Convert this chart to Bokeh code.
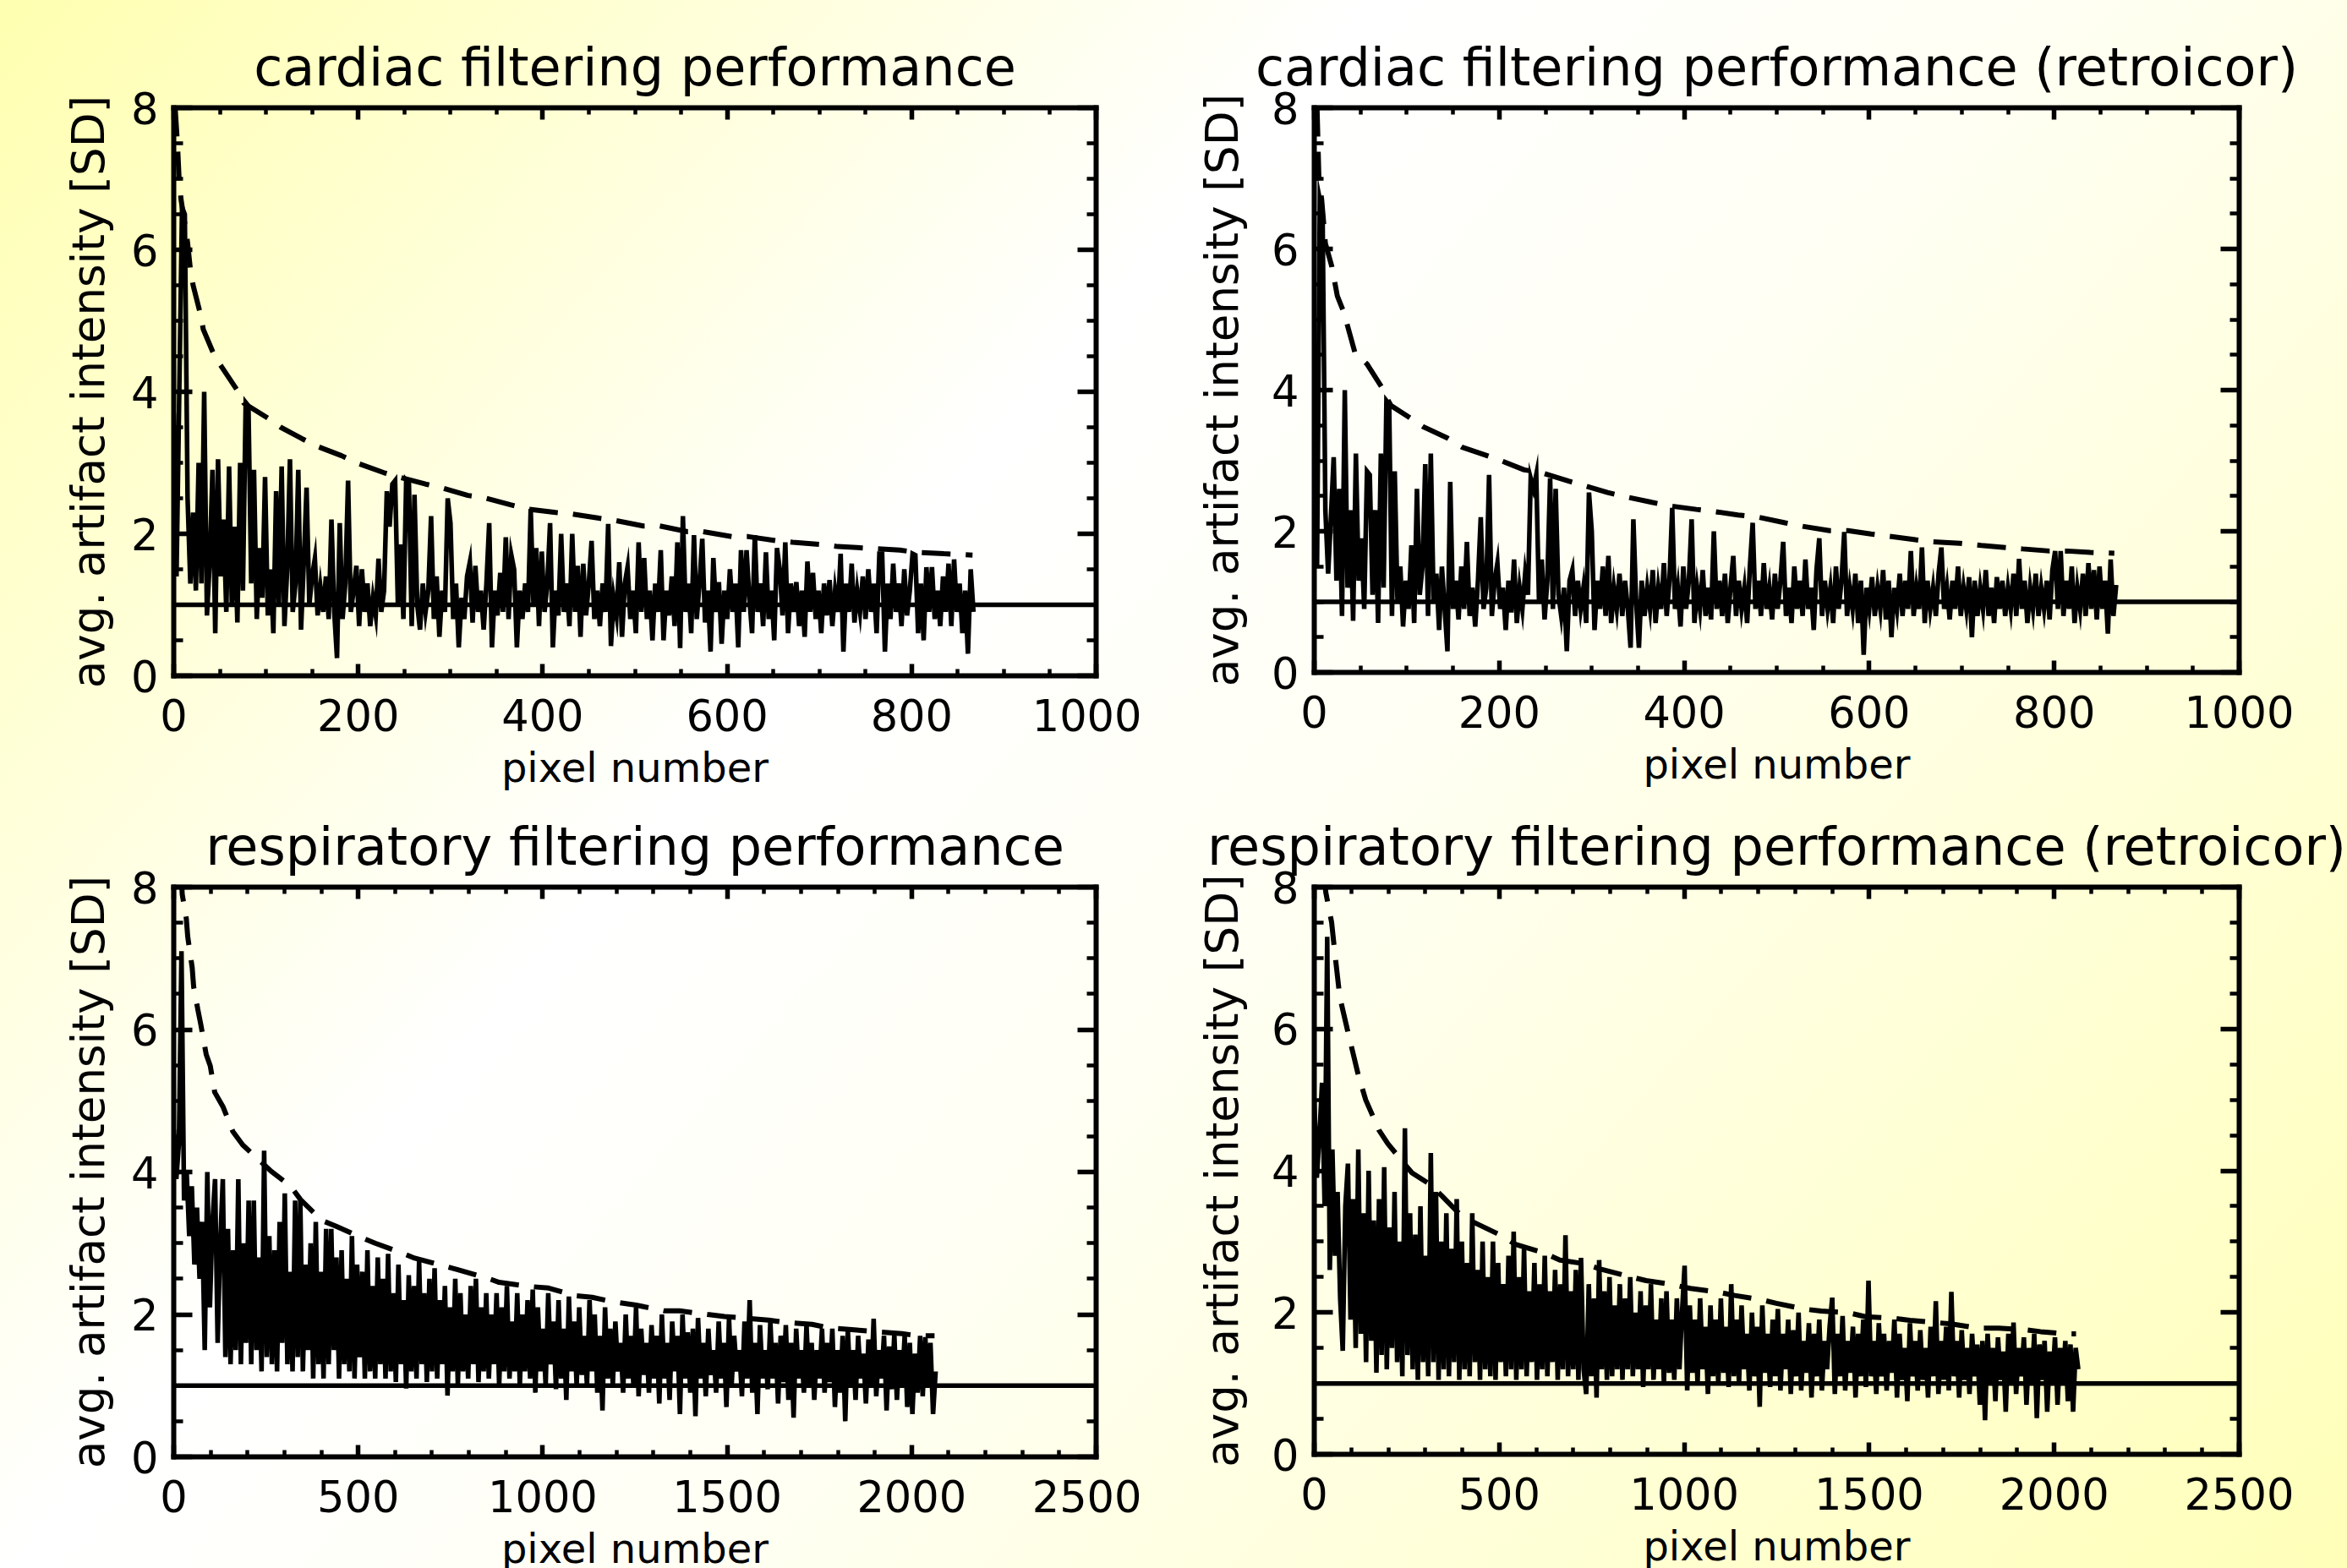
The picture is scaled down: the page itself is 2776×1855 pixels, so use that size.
from bokeh.plotting import figure
from bokeh.layouts import column, row
from bokeh.models import (LinearAxis, SingleIntervalTicker, Range1d,
                          CustomJSTickFormatter, Span)
from bokeh.embed import file_html
from bokeh.resources import INLINE

FONT = "DejaVu Sans"

TITLES = ["cardiac filtering performance",
          "cardiac filtering performance (retroicor)",
          "respiratory filtering performance",
          "respiratory filtering performance (retroicor)"]
X_LABEL = "pixel number"
Y_LABEL = "avg. artifact intensity [SD]"
X_MAX_CARD = 1000
X_MAX_RESP = 2500
Y_MAX = 8
REF_LEVEL = 1.0
CARD_STEP = 3   # pixel spacing of the read cardiac samples
RESP_STEP = 7   # pixel spacing of the read respiratory samples

# ---- cardiac (top left) ----
TL_Y = [3.7, 1.4, 4.0, 6.6, 6.5, 2.5, 1.3, 2.3, 1.2, 3.0,
        1.3, 4.0, 0.85, 1.6, 2.9, 0.6, 3.05, 1.4, 2.2, 0.9,
        2.95, 1.0, 2.1, 0.75, 3.0, 1.2, 3.85, 3.8, 1.3, 2.9,
        0.8, 1.8, 1.1, 2.8, 0.85, 1.5, 0.6, 2.6, 1.0, 2.95,
        0.7, 1.5, 3.05, 0.9, 1.3, 2.9, 0.65, 1.6, 2.65, 1.0,
        1.4, 1.65, 0.85, 1.25, 0.9, 1.4, 0.8, 2.2, 0.9, 0.25,
        2.15, 0.8, 1.3, 2.75, 0.9, 1.2, 1.55, 0.7, 1.5, 0.9,
        1.3, 0.7, 1.1, 0.85, 1.65, 0.9, 1.2, 2.6, 2.1, 2.7,
        2.75, 1.0, 1.85, 0.8, 2.75, 2.7, 0.7, 2.55, 1.0, 0.65,
        1.3, 0.9, 1.2, 2.25, 0.8, 1.4, 0.55, 1.2, 0.9, 2.5,
        2.15, 0.8, 1.3, 0.4, 1.1, 0.8, 1.4, 1.6, 0.75, 1.55,
        0.9, 1.2, 0.65, 1.3, 2.15, 0.4, 1.2, 0.85, 1.45, 0.9,
        1.95, 0.8, 1.7, 1.5, 0.4, 1.2, 0.8, 1.3, 0.9, 2.35,
        1.0, 1.8, 0.7, 1.75, 0.9, 1.3, 2.15, 0.4, 1.2, 0.85,
        2.0, 0.9, 1.3, 0.7, 2.0, 0.9, 1.55, 0.55, 1.58, 0.85,
        1.3, 1.9, 0.8, 1.2, 0.7, 1.3, 0.9, 2.14, 0.42, 1.1,
        0.85, 1.6, 0.55, 1.3, 1.53, 0.8, 1.2, 0.6, 1.88, 0.9,
        1.66, 0.8, 1.2, 0.5, 1.3, 0.9, 1.77, 0.5, 1.2, 0.85,
        1.4, 0.7, 1.88, 0.39, 2.25, 0.9, 1.3, 0.6, 1.98, 0.8,
        1.3, 1.93, 0.75, 1.2, 0.34, 1.66, 0.9, 1.32, 0.45, 1.2,
        0.8, 1.5, 0.9, 1.3, 0.4, 1.77, 0.9, 1.77, 1.1, 0.6,
        1.98, 0.9, 1.3, 0.7, 1.74, 0.8, 1.2, 0.5, 1.8, 1.5,
        0.85, 1.88, 0.6, 1.3, 0.9, 1.32, 0.7, 1.2, 0.55, 1.61,
        0.9, 1.45, 0.8, 1.2, 0.6, 1.3, 0.85, 1.35, 0.7, 1.2,
        0.9, 1.72, 0.34, 1.3, 0.9, 1.58, 0.75, 1.2, 0.9, 1.4,
        0.8, 1.5, 0.9, 1.3, 0.6, 1.72, 1.72, 0.34, 1.3, 0.8,
        1.58, 0.9, 1.3, 0.7, 1.5, 0.85, 1.2, 1.72, 1.7, 0.6,
        1.3, 0.5, 1.53, 0.9, 1.53, 0.8, 1.2, 0.7, 1.4, 0.9,
        1.58, 0.7, 1.64, 0.9, 1.3, 0.6, 1.2, 0.31, 1.5, 0.9]
TL_DX = [1.5, 4, 6, 8, 12, 15, 18, 21, 29, 32, 44, 52, 70, 76, 102, 116, 139,
         156, 182, 200, 228, 244, 273, 290, 319, 336, 365, 383, 414, 431, 461,
         478, 509, 527, 557, 574, 605, 623, 654, 671, 701, 720, 750, 787, 805,
         835, 866]
TL_DY = [8.0, 7.5, 6.95, 6.7, 6.37, 6.1, 5.73, 5.5, 5.09, 4.88, 4.51, 4.35,
         4.0, 3.84, 3.63, 3.5, 3.34, 3.23, 3.1, 2.99, 2.86, 2.8, 2.7, 2.65,
         2.54, 2.51, 2.41, 2.35, 2.3, 2.28, 2.22, 2.19, 2.11, 2.11, 2.03, 2.03,
         1.96, 1.96, 1.9, 1.88, 1.85, 1.82, 1.8, 1.77, 1.74, 1.72, 1.7]

# ---- cardiac retroicor (top right) ----
TR_Y = [4.0, 1.5, 6.7, 6.5, 2.3, 1.4, 2.2, 3.05, 1.3, 2.6,
        0.8, 4.0, 1.2, 2.3, 0.73, 3.1, 1.3, 1.9, 0.9, 2.85,
        2.8, 1.1, 2.3, 0.7, 3.1, 1.2, 3.85, 3.8, 0.8, 2.85,
        1.0, 1.5, 0.65, 1.3, 0.9, 1.8, 0.7, 2.6, 1.1, 1.5,
        2.95, 0.8, 3.1, 1.0, 1.4, 0.6, 1.5, 0.9, 0.3, 2.7,
        0.9, 1.3, 0.75, 1.5, 0.9, 1.85, 0.8, 1.2, 0.65, 1.3,
        2.2, 0.9, 1.2, 2.8, 0.8, 1.3, 1.55, 0.9, 1.2, 0.6,
        1.3, 0.85, 1.6, 0.7, 1.2, 0.9, 1.4, 1.1, 2.75, 2.6,
        2.8, 1.0, 1.6, 0.75, 1.3, 2.75, 0.9, 2.6, 1.1, 0.8,
        1.2, 0.3, 1.3, 1.45, 0.8, 1.3, 0.9, 1.2, 0.7, 2.55,
        2.0, 0.6, 1.3, 0.9, 1.5, 0.8, 1.65, 0.7, 1.2, 0.9,
        1.4, 0.8, 1.3, 0.9, 0.35, 2.17, 1.0, 0.35, 1.3, 0.8,
        1.2, 0.9, 1.45, 0.7, 1.2, 0.9, 1.55, 0.8, 1.3, 2.33,
        0.9, 1.2, 0.65, 1.5, 0.9, 1.3, 2.17, 0.7, 1.2, 0.9,
        1.45, 0.8, 1.2, 0.75, 2.0, 0.9, 1.3, 0.8, 1.4, 0.7,
        1.2, 1.65, 0.8, 1.3, 0.9, 1.2, 0.7, 1.5, 2.12, 0.9,
        1.3, 0.8, 1.55, 0.9, 1.2, 0.75, 1.4, 0.9, 1.3, 1.85,
        0.8, 1.2, 0.7, 1.5, 0.9, 1.3, 0.8, 1.6, 0.9, 1.2,
        0.6, 1.45, 1.9, 0.8, 1.3, 0.9, 1.2, 0.7, 1.5, 0.9,
        1.3, 1.99, 0.8, 1.2, 0.9, 1.4, 0.7, 1.3, 0.25, 1.2,
        0.9, 1.35, 0.8, 1.2, 0.9, 1.45, 0.75, 1.3, 0.5, 1.2,
        0.9, 1.4, 0.8, 1.3, 0.9, 1.72, 0.8, 1.2, 0.9, 1.77,
        0.7, 1.3, 0.9, 1.2, 0.8, 1.4, 1.77, 0.9, 1.2, 0.75,
        1.3, 0.9, 1.5, 0.8, 1.2, 0.9, 1.35, 0.5, 1.3, 0.8,
        1.2, 0.9, 1.45, 0.8, 1.2, 0.7, 1.35, 0.9, 1.3, 0.8,
        1.2, 0.9, 1.4, 0.8, 1.61, 0.9, 1.3, 0.7, 1.2, 0.9,
        1.4, 0.8, 1.2, 0.9, 1.3, 0.75, 1.45, 1.72, 0.9, 1.72,
        0.8, 1.3, 0.9, 1.5, 0.7, 1.2, 0.9, 1.4, 0.8, 1.55,
        0.9, 1.45, 0.75, 1.5, 0.9, 1.3, 0.55, 1.6, 0.8, 1.24]
TR_DX = [3, 5, 8, 12, 19, 25, 32, 44, 57, 73, 80, 83, 102, 118, 144, 160, 185,
         202, 227, 246, 275, 291, 317, 336, 365, 384, 413, 432, 458, 480, 509,
         528, 557, 577, 602, 621, 650, 669, 698, 721, 747, 766, 795, 814, 839,
         865]
TR_DY = [8.0, 7.0, 6.7, 6.08, 5.75, 5.33, 5.1, 4.53, 4.37, 4.04, 3.85, 3.78,
         3.62, 3.48, 3.32, 3.19, 3.08, 3.0, 2.87, 2.83, 2.71, 2.65, 2.55, 2.49,
         2.41, 2.36, 2.31, 2.28, 2.23, 2.2, 2.12, 2.07, 2.01, 2.01, 1.96, 1.93,
         1.88, 1.85, 1.83, 1.8, 1.77, 1.75, 1.72, 1.72, 1.7, 1.69]

# ---- respiratory (bottom left) ----
BL_Y = [4.6, 3.9, 4.4, 7.1, 3.6, 4.0, 3.1, 3.8, 2.7, 3.5,
        2.5, 3.3, 1.5, 4.0, 2.1, 3.3, 3.9, 1.6, 3.0, 3.9,
        1.4, 3.2, 1.3, 2.9, 1.5, 3.9, 1.3, 3.0, 1.6, 3.6,
        1.3, 3.6, 1.5, 2.8, 1.2, 4.3, 1.4, 3.1, 1.3, 2.9,
        1.2, 3.3, 1.6, 3.7, 1.3, 2.6, 1.2, 3.6, 1.4, 3.6,
        1.2, 2.7, 1.5, 3.0, 1.1, 3.3, 1.3, 2.6, 1.1, 3.2,
        1.3, 3.2, 1.5, 2.8, 1.1, 2.9, 1.3, 2.5, 1.2, 3.1,
        1.1, 2.7, 1.4, 2.6, 1.1, 2.9, 1.2, 2.4, 1.1, 2.8,
        1.3, 2.5, 1.1, 2.85, 1.2, 2.3, 1.05, 2.7, 1.3, 2.2,
        0.96, 2.55, 1.2, 2.4, 1.1, 2.75, 1.3, 2.3, 1.05, 2.5,
        1.2, 2.65, 1.1, 2.2, 1.3, 2.4, 0.86, 2.1, 1.2, 2.5,
        1.0, 2.3, 1.2, 2.0, 1.1, 2.4, 1.3, 2.5, 1.05, 2.1,
        1.2, 2.3, 1.1, 2.0, 1.3, 2.3, 1.0, 2.1, 1.2, 2.4,
        1.1, 1.9, 1.2, 2.3, 1.0, 2.0, 1.2, 2.2, 1.1, 2.35,
        0.9, 2.1, 1.2, 1.8, 1.0, 2.3, 1.3, 1.9, 0.95, 2.2,
        1.1, 1.8, 0.8, 2.25, 1.2, 1.9, 1.0, 2.1, 1.15, 1.7,
        1.0, 2.2, 1.2, 2.0, 0.9, 1.7, 0.65, 2.1, 1.1, 1.8,
        1.0, 1.9, 1.2, 1.6, 0.9, 2.0, 1.1, 1.7, 1.0, 2.1,
        0.85, 1.8, 1.15, 1.6, 0.9, 1.85, 1.1, 1.7, 0.75, 2.0,
        1.1, 1.6, 0.8, 1.9, 1.2, 1.7, 0.6, 2.0, 1.1, 1.75,
        0.9, 1.8, 0.57, 1.95, 1.1, 1.6, 0.85, 1.8, 1.15, 1.5,
        0.9, 1.9, 1.1, 1.6, 0.7, 1.95, 1.0, 1.7, 1.2, 1.5,
        0.85, 1.9, 1.1, 2.2, 0.9, 1.6, 0.6, 1.85, 1.1, 1.5,
        0.95, 1.9, 1.1, 1.6, 0.75, 1.7, 1.05, 1.85, 0.8, 1.6,
        0.55, 1.8, 1.1, 1.5, 0.9, 1.85, 1.0, 1.6, 0.8, 1.5,
        1.1, 1.8, 0.9, 1.6, 1.05, 1.8, 0.7, 1.5, 0.9, 1.7,
        0.5, 1.78, 1.0, 1.5, 0.8, 1.7, 1.1, 1.45, 0.75, 1.65,
        1.0, 1.94, 0.85, 1.5, 1.1, 1.7, 0.65, 1.55, 0.95, 1.72,
        0.8, 1.5, 1.0, 1.7, 0.7, 1.6, 0.6, 1.45, 0.9, 1.7,
        0.85, 1.68, 1.0, 1.6, 0.6, 1.2]
BL_DX = [20, 23, 34, 38, 50, 54, 65, 73, 88, 99, 111, 134, 160, 187, 237, 264,
         317, 344, 401, 439, 508, 546, 615, 653, 726, 768, 855, 882, 970, 1016,
         1092, 1134, 1188, 1253, 1329, 1371, 1447, 1493, 1612, 1654, 1730, 1776,
         1852, 1898, 1974, 2016, 2062]
BL_DY = [8.2, 7.9, 7.56, 7.3, 6.87, 6.6, 6.29, 6.08, 5.65, 5.49, 5.12, 4.91,
         4.57, 4.38, 4.14, 4.01, 3.8, 3.61, 3.32, 3.24, 3.08, 3.0, 2.87, 2.79,
         2.69, 2.63, 2.5, 2.45, 2.39, 2.37, 2.26, 2.24, 2.18, 2.13, 2.05, 2.05,
         2.0, 1.97, 1.92, 1.89, 1.86, 1.81, 1.78, 1.76, 1.73, 1.7, 1.7]

# ---- respiratory retroicor (bottom right) ----
BR_Y = [5.0, 3.9, 4.5, 5.24, 3.5, 7.3, 2.6, 4.3, 2.8, 3.7,
        2.2, 1.46, 3.5, 4.1, 1.9, 3.6, 1.5, 4.3, 1.7, 3.4,
        1.3, 4.0, 1.6, 3.3, 1.15, 3.6, 1.4, 4.05, 1.2, 3.2,
        1.5, 3.7, 1.3, 3.0, 1.1, 4.6, 1.4, 3.4, 1.2, 3.1,
        1.05, 3.5, 1.3, 2.8, 1.1, 4.25, 1.3, 3.7, 1.05, 3.0,
        1.2, 3.4, 1.1, 2.9, 1.3, 3.6, 1.05, 3.0, 1.2, 2.7,
        1.1, 3.4, 1.3, 2.6, 1.05, 3.0, 1.2, 2.5, 1.1, 3.0,
        1.05, 2.7, 1.3, 2.4, 1.1, 2.8, 1.2, 3.14, 1.05, 2.5,
        1.2, 2.9, 1.1, 2.3, 1.3, 2.7, 1.05, 2.4, 1.2, 2.8,
        1.1, 2.3, 1.3, 2.6, 1.05, 2.4, 1.2, 3.09, 1.1, 2.3,
        1.2, 2.6, 1.05, 2.77, 1.2, 0.85, 2.4, 1.1, 2.2, 0.8,
        2.74, 1.2, 2.3, 1.05, 2.5, 1.1, 2.1, 1.2, 2.4, 1.05,
        2.2, 1.2, 2.5, 1.1, 2.0, 1.2, 2.3, 0.95, 2.1, 1.2,
        2.4, 1.05, 1.9, 1.2, 2.2, 1.0, 2.3, 1.15, 1.9, 1.05,
        2.2, 1.2, 2.0, 2.66, 0.9, 2.1, 1.15, 1.9, 1.0, 2.2,
        1.2, 1.8, 0.85, 2.1, 1.1, 1.9, 1.0, 2.2, 1.15, 1.8,
        0.95, 2.4, 1.1, 1.9, 1.0, 2.1, 1.2, 1.7, 0.9, 2.0,
        1.1, 1.8, 0.67, 2.1, 1.15, 1.7, 0.95, 1.9, 1.1, 2.05,
        0.9, 1.7, 1.2, 1.9, 0.85, 1.75, 1.1, 2.0, 0.9, 1.6,
        1.15, 1.85, 0.8, 1.7, 1.1, 1.9, 0.9, 1.6, 1.2, 1.8,
        2.21, 0.85, 1.7, 1.1, 1.95, 0.9, 1.6, 1.15, 1.8, 0.8,
        1.7, 1.1, 1.9, 0.95, 2.45, 1.1, 1.6, 0.85, 1.85, 1.1,
        1.7, 0.9, 1.6, 1.15, 1.9, 0.8, 1.7, 1.05, 1.5, 0.75,
        1.85, 1.1, 1.6, 0.9, 1.75, 1.05, 1.5, 0.8, 1.8, 1.1,
        2.16, 0.85, 1.6, 1.05, 1.8, 0.9, 2.29, 1.1, 1.6, 0.8,
        1.75, 1.05, 1.5, 0.85, 1.7, 1.1, 1.55, 0.7, 1.6, 0.48,
        1.7, 1.0, 1.5, 0.75, 1.65, 1.05, 1.45, 0.6, 1.7, 1.0,
        1.86, 0.85, 1.5, 1.1, 1.65, 0.7, 1.5, 1.0, 1.7, 0.51,
        1.55, 1.05, 1.6, 0.6, 1.45, 1.0, 1.65, 0.7, 1.5, 1.0,
        1.6, 0.75, 1.55, 0.6, 1.5, 1.2]
BR_DX = [27, 31, 47, 55, 69, 89, 119, 139, 175, 199, 240, 264, 312, 344, 400,
         440, 504, 544, 616, 664, 728, 776, 857, 897, 961, 1017, 1089, 1137,
         1209, 1249, 1322, 1370, 1442, 1490, 1562, 1610, 1674, 1722, 1794, 1850,
         1915, 1963, 2027, 2059]
BR_DY = [8.2, 7.93, 7.5, 7.1, 6.45, 6.0, 5.35, 5.0, 4.57, 4.38, 4.12, 3.97,
         3.81, 3.65, 3.35, 3.25, 3.09, 2.96, 2.85, 2.74, 2.69, 2.61, 2.5, 2.45,
         2.4, 2.34, 2.29, 2.24, 2.18, 2.13, 2.05, 2.02, 2.0, 1.94, 1.92, 1.89,
         1.86, 1.84, 1.78, 1.78, 1.76, 1.73, 1.7, 1.7]


def style_axis(ax, major_len, minor_len):
    ax.axis_line_width = 6
    ax.axis_line_color = "black"
    ax.axis_line_cap = "square"
    ax.major_tick_line_width = 5.5
    ax.minor_tick_line_width = 4.5
    ax.major_tick_line_color = "black"
    ax.minor_tick_line_color = "black"
    ax.major_tick_in = major_len
    ax.major_tick_out = 0
    ax.minor_tick_in = minor_len
    ax.minor_tick_out = 0
    ax.major_label_text_font = FONT
    ax.major_label_text_font_size = "51px"
    ax.major_label_text_color = "black"
    ax.axis_label_text_font = FONT
    ax.axis_label_text_font_style = "normal"
    ax.axis_label_text_color = "black"


def panel(title, ys, step, dx, dy, xmax, xint, xminor, fw, fh, bl, br, bt, bb,
          ylab_standoff):
    xs = list(range(0, step * len(ys), step))
    p = figure(width=bl + fw + br, height=bt + fh + bb,
               frame_width=fw, frame_height=fh,
               x_range=Range1d(0, xmax), y_range=Range1d(0, Y_MAX),
               output_backend="svg", toolbar_location=None,
               min_border_left=bl, min_border_right=br,
               min_border_top=bt, min_border_bottom=bb,
               background_fill_alpha=0, border_fill_alpha=0,
               outline_line_color=None)
    p.xgrid.visible = False
    p.ygrid.visible = False

    p.title.text = title
    p.title.align = "center"
    p.title.text_font = FONT
    p.title.text_font_size = "62px"
    p.title.text_font_style = "normal"
    p.title.text_color = "black"
    p.title.standoff = 24

    xt = SingleIntervalTicker(interval=xint, num_minor_ticks=xminor)
    yt = SingleIntervalTicker(interval=2, num_minor_ticks=4)

    xa = p.xaxis[0]
    ya = p.yaxis[0]
    xa.ticker = xt
    ya.ticker = yt
    xa.axis_label = X_LABEL
    ya.axis_label = Y_LABEL
    style_axis(xa, 14, 8)
    style_axis(ya, 22, 11)
    xa.axis_label_text_font_size = "48px"
    ya.axis_label_text_font_size = "53px"
    xa.major_label_standoff = 27
    xa.axis_label_standoff = 12
    ya.major_label_standoff = 18
    ya.axis_label_standoff = ylab_standoff

    blank = "return ''"
    top = LinearAxis(ticker=xt, formatter=CustomJSTickFormatter(code=blank))
    right = LinearAxis(ticker=yt, formatter=CustomJSTickFormatter(code=blank))
    for ax, mj, mn in ((top, 14, 8), (right, 22, 11)):
        style_axis(ax, mj, mn)
        ax.major_label_standoff = 0
        ax.major_label_text_font_size = "1px"
    p.add_layout(top, "above")
    p.add_layout(right, "right")

    p.add_layout(Span(location=REF_LEVEL, dimension="width",
                      line_color="black", line_width=5.5))
    p.line(xs, ys, line_color="black", line_width=5.5, line_join="miter")
    p.line(dx, dy, line_color="black", line_width=6, line_dash="34 18")
    return p


tl = panel(TITLES[0], TL_Y, CARD_STEP, TL_DX, TL_DY, X_MAX_CARD, 200, 4,
           1091, 672, 205, 54, 119, 159, 17)
tr = panel(TITLES[1], TR_Y, CARD_STEP, TR_DX, TR_DY, X_MAX_CARD, 200, 4,
           1094, 668, 204, 128, 127, 155, 25)
bl = panel(TITLES[2], BL_Y, RESP_STEP, BL_DX, BL_DY, X_MAX_RESP, 500, 5,
           1091, 674, 205, 54, 91, 140, 17)
br = panel(TITLES[3], BR_Y, RESP_STEP, BR_DX, BR_DY, X_MAX_RESP, 500, 5,
           1094, 671, 204, 128, 99, 135, 25)

page = column(row(tl, tr), row(bl, br),
              styles={"background": "linear-gradient(131deg, #ffffb0 0%, "
                                    "#ffffff 37%, #fffff4 55%, #ffffb8 100%)"})

open("out.html", "w").write(file_html(page, INLINE))
